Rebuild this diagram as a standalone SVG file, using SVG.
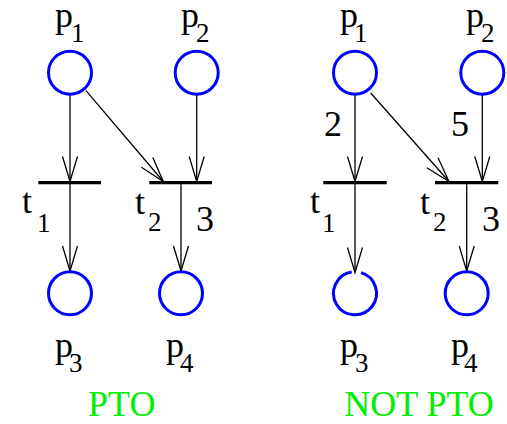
<svg xmlns="http://www.w3.org/2000/svg" width="507" height="424" viewBox="0 0 507 424">
<defs>
<marker id="ah" markerUnits="userSpaceOnUse" markerWidth="30" markerHeight="20" viewBox="-26 -10 30 20" refX="0" refY="0" orient="auto">
<path d="M-25,-7.5 L0,0 L-25,7.5" fill="none" stroke="#000" stroke-width="1.3"/>
</marker>
</defs>
<rect width="507" height="424" fill="#fff"/>
<g id="connectors" stroke="#000" stroke-width="1.3" fill="none" marker-end="url(#ah)">
<line x1="70" y1="94.5" x2="70" y2="181.5"/>
<line x1="196.7" y1="94.5" x2="196.7" y2="181.5"/>
<line x1="86" y1="90.7" x2="163.3" y2="181.5"/>
<line x1="70" y1="184" x2="70" y2="271"/>
<line x1="181" y1="184" x2="181" y2="271"/>
<line x1="355" y1="94.5" x2="355" y2="181.5"/>
<line x1="482.3" y1="94.5" x2="482.3" y2="181.5"/>
<line x1="370.7" y1="93" x2="449" y2="181.5"/>
<line x1="355" y1="184" x2="355" y2="272.5"/>
<line x1="466.7" y1="184" x2="466.7" y2="271"/>
</g>
<g id="weights" fill="#000">
<text style="font-family:'Liberation Serif',serif;font-size:36px" x="196" y="231">3</text>
<text style="font-family:'Liberation Serif',serif;font-size:36px" x="324" y="136">2</text>
<text style="font-family:'Liberation Serif',serif;font-size:36px" x="451" y="136">5</text>
<text style="font-family:'Liberation Serif',serif;font-size:36px" x="482" y="231">3</text>
</g>
<g id="L_p1"><circle cx="70" cy="72.7" r="21.5" fill="none" stroke="#0000ff" stroke-width="3"/><text style="font-family:'Liberation Serif',serif;font-size:36px" x="55" y="27">p</text><text style="font-family:'Liberation Serif',serif;font-size:27px" x="71" y="42">1</text></g>
<g id="L_p2"><circle cx="196.7" cy="72.7" r="21.5" fill="none" stroke="#0000ff" stroke-width="3"/><text style="font-family:'Liberation Serif',serif;font-size:36px" x="181" y="27">p</text><text style="font-family:'Liberation Serif',serif;font-size:27px" x="196" y="42">2</text></g>
<g id="L_t1"><line x1="38.3" y1="182.7" x2="101" y2="182.7" stroke="#000" stroke-width="3.2"/><text style="font-family:'Liberation Serif',serif;font-size:36px" x="22" y="213">t</text><text style="font-family:'Liberation Serif',serif;font-size:27px" x="37" y="232">1</text></g>
<g id="L_t2"><line x1="149.3" y1="182.7" x2="212" y2="182.7" stroke="#000" stroke-width="3.2"/><text style="font-family:'Liberation Serif',serif;font-size:36px" x="135" y="214">t</text><text style="font-family:'Liberation Serif',serif;font-size:27px" x="148" y="231">2</text></g>
<g id="L_p3"><circle cx="70" cy="293.3" r="21.5" fill="none" stroke="#0000ff" stroke-width="3"/><text style="font-family:'Liberation Serif',serif;font-size:36px" x="55" y="356.5">p</text><text style="font-family:'Liberation Serif',serif;font-size:27px" x="69" y="371.5">3</text></g>
<g id="L_p4"><circle cx="181" cy="293.3" r="21.5" fill="none" stroke="#0000ff" stroke-width="3"/><text style="font-family:'Liberation Serif',serif;font-size:36px" x="166" y="356.5">p</text><text style="font-family:'Liberation Serif',serif;font-size:27px" x="180" y="371.5">4</text></g>
<text style="font-family:'Liberation Serif',serif;font-size:36px" fill="#00ee00" text-anchor="middle" x="121.7" y="416">PTO</text>
<g id="R_p1"><circle cx="355" cy="72.7" r="21.5" fill="none" stroke="#0000ff" stroke-width="3"/><text style="font-family:'Liberation Serif',serif;font-size:36px" x="340" y="27">p</text><text style="font-family:'Liberation Serif',serif;font-size:27px" x="354" y="42">1</text></g>
<g id="R_p2"><circle cx="482.3" cy="72.7" r="21.5" fill="none" stroke="#0000ff" stroke-width="3"/><text style="font-family:'Liberation Serif',serif;font-size:36px" x="466" y="27">p</text><text style="font-family:'Liberation Serif',serif;font-size:27px" x="481" y="42">2</text></g>
<g id="R_t1"><line x1="323.3" y1="182.7" x2="386.7" y2="182.7" stroke="#000" stroke-width="3.2"/><text style="font-family:'Liberation Serif',serif;font-size:36px" x="310" y="213">t</text><text style="font-family:'Liberation Serif',serif;font-size:27px" x="322" y="232">1</text></g>
<g id="R_t2"><line x1="435" y1="182.7" x2="498.3" y2="182.7" stroke="#000" stroke-width="3.2"/><text style="font-family:'Liberation Serif',serif;font-size:36px" x="420" y="214">t</text><text style="font-family:'Liberation Serif',serif;font-size:27px" x="433" y="231">2</text></g>
<g id="R_p3"><path d="M361,272.65 A21.5,21.5 0 1 1 351.7,272.05" fill="none" stroke="#0000ff" stroke-width="3"/><text style="font-family:'Liberation Serif',serif;font-size:36px" x="340" y="356.5">p</text><text style="font-family:'Liberation Serif',serif;font-size:27px" x="355" y="371.5">3</text></g>
<g id="R_p4"><circle cx="466.7" cy="293.3" r="21.5" fill="none" stroke="#0000ff" stroke-width="3"/><text style="font-family:'Liberation Serif',serif;font-size:36px" x="451" y="356.5">p</text><text style="font-family:'Liberation Serif',serif;font-size:27px" x="464" y="371.5">4</text></g>
<text style="font-family:'Liberation Serif',serif;font-size:36px" fill="#00ee00" text-anchor="middle" x="419" y="416">NOT PTO</text>
</svg>
